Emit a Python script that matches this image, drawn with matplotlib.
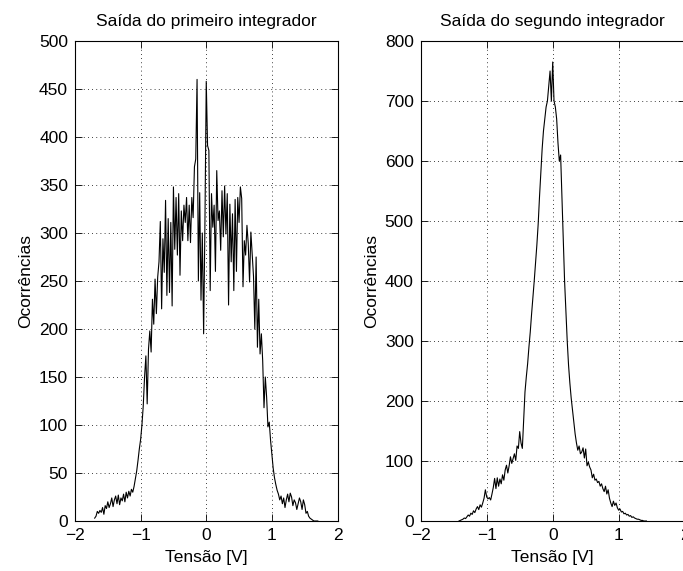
import numpy as np
import matplotlib
matplotlib.use("Agg")
import matplotlib.pyplot as plt

# bin centres (V) and counts
v1_start, v1_step = -1.70, 0.02
count1 = [
    3, 5, 10, 8, 11, 9, 14, 7, 16, 13,
    20, 14, 18, 24, 15, 22, 26, 18, 27, 17,
    24, 21, 28, 20, 30, 24, 31, 26, 33, 30,
    36, 44, 52, 63, 75,
    85, 100, 120, 150, 172, 122, 179, 198, 176, 231,
    205, 252, 216, 254, 270, 312, 221, 294, 259, 334,
    235, 315, 238, 311, 224, 348, 283, 337, 277, 341,
    256, 323, 292, 329, 311, 337, 292, 329, 290, 337,
    316, 369, 377, 460, 250, 342, 230, 300, 195, 310,
    458, 391, 386, 240, 341, 306, 329, 260, 365, 313,
    323, 282, 344, 296, 349, 299, 341, 225, 330, 270,
    320, 240, 335, 260, 337, 311, 348, 336, 244, 292,
    277, 308, 289, 249, 301, 277, 255, 200, 275, 181,
    231, 174, 195, 167, 118, 150, 129, 98, 103, 84,
    70, 55, 45, 38, 32, 28, 22, 26, 18, 24,
    14, 22, 28, 20, 29, 25, 16, 22, 19, 12,
    18, 24, 20, 12, 22, 17, 8, 10, 5, 3,
    2, 1, 0, 0, 0, 0,
]

v2_start, v2_step = -1.42, 0.02
count2 = [
    0, 1, 2, 3, 5, 4, 7, 10, 8, 13,
    11, 17, 14, 20, 24, 19, 27, 23, 30, 38,
    52, 40, 37, 39, 35, 45, 56, 71, 54, 72,
    58, 70, 62, 77, 68, 85, 93, 80, 92, 107,
    96, 104, 112, 101, 125, 121, 149, 130, 121, 168,
    215, 240, 262, 290, 315, 345, 372, 400, 430, 460,
    495, 540, 580, 620, 650, 670, 690, 700, 725, 750,
    700, 765, 700, 690, 670, 630, 600, 610, 540, 470,
    400, 350, 300, 260, 230, 205, 185, 165, 145, 130,
    118, 125, 112, 115, 122, 105, 120, 92, 98, 90,
    85, 72, 78, 68, 70, 64, 66, 58, 62, 54,
    49, 58, 45, 52, 38, 30, 24, 33, 26, 30,
    22, 18, 20, 15, 16, 12, 13, 10, 11, 8,
    9, 6, 7, 5, 4, 3, 3, 2, 1, 1,
    0, 0, 0,
]

titles = ["Saída do primeiro integrador", "Saída do segundo integrador"]
xlabel = "Tensão [V]"
ylabel = "Ocorrências"
ylims = [500, 800]
yticks = [np.arange(0, 501, 50), np.arange(0, 801, 100)]

plt.rcParams['font.family'] = ['Liberation Sans', 'DejaVu Sans']
fs = 12.5

fig = plt.figure(figsize=(6.83, 5.71), dpi=100)
ax1 = fig.add_axes([75 / 683, 50 / 571, 262.5 / 683, 480 / 571])
ax2 = fig.add_axes([420.7 / 683, 50 / 571, 264 / 683, 480 / 571])

series = [
    (v1_start + v1_step * np.arange(len(count1)), count1),
    (v2_start + v2_step * np.arange(len(count2)), count2),
]

for ax, (x, y), title, ymax, yt in zip([ax1, ax2], series, titles, ylims, yticks):
    ax.plot(x, y, color="black", linewidth=0.8)
    ax.set_xlim(-2, 2)
    ax.set_ylim(0, ymax)
    ax.set_xticks([-2, -1, 0, 1, 2])
    ax.set_xticklabels(["\u22122", "\u22121", "0", "1", "2"])
    ax.set_yticks(yt)
    ax.grid(True, color="black", linestyle=(0, (1, 4)), linewidth=0.6)
    ax.tick_params(direction="in", top=True, right=True, length=5, width=0.6,
                   labelsize=fs, pad=5)
    for s in ax.spines.values():
        s.set_linewidth(0.8)
    ax.set_title(title, fontsize=fs, pad=11)
    ax.set_xlabel(xlabel, fontsize=fs, labelpad=5)
    ax.set_ylabel(ylabel, fontsize=fs, labelpad=4)

fig.savefig("out.png", dpi=100)
